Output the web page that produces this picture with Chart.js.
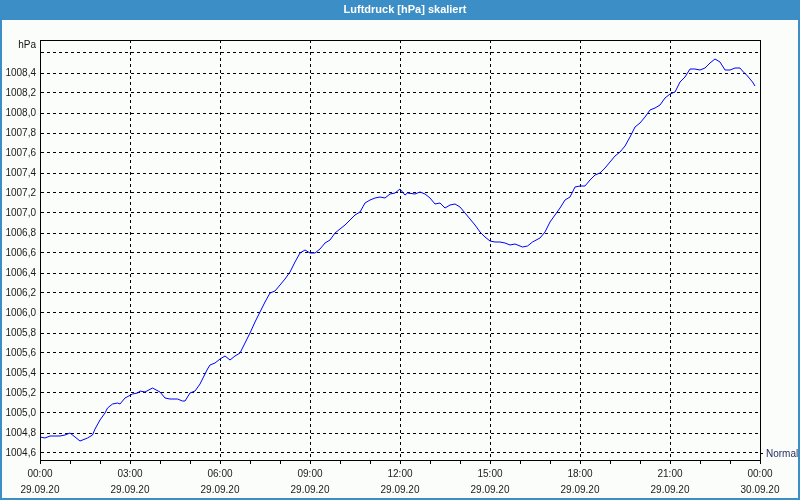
<!DOCTYPE html>
<html>
<head>
<meta charset="utf-8">
<script src="https://cdn.jsdelivr.net/npm/chart.js@4/dist/chart.umd.min.js"></script>
<style>
    body { margin: 0; background: #fbfdfb; }
    canvas { display: block; }
</style>
</head>
<body>
<canvas id="chart" width="800" height="500"></canvas>
<script>
const title = 'Luftdruck [hPa] skaliert'
const unit = 'hPa'
const normalLabel = 'Normal'

// minutes since 29.09.20 00:00
const minutes = [0, 10, 20, 30, 40, 50, 60, 70, 80, 95, 105, 110, 120, 130, 135, 145, 155, 160, 170, 185,
    195, 200, 210, 225, 240, 250, 260, 275, 285, 290, 300, 310, 320, 335, 340, 350, 360, 370, 380, 390,
    400, 410, 420, 430, 440, 450, 460, 470, 480, 490, 500, 510, 520, 530, 540, 550, 560, 570, 580, 590,
    600, 610, 620, 630, 640, 650, 660, 670, 680, 690, 700, 710, 720, 730, 735, 750, 760, 770, 780, 790,
    800, 810, 820, 830, 840, 850, 860, 870, 880, 890, 900, 910, 920, 930, 940, 950, 960, 965, 975, 985,
    1000, 1010, 1020, 1030, 1040, 1050, 1060, 1070, 1080, 1090, 1100, 1110, 1120, 1130, 1140, 1150, 1160, 1170, 1180, 1190,
    1200, 1210, 1220, 1230, 1240, 1250, 1260, 1270, 1280, 1290, 1300, 1310, 1320, 1330, 1340, 1350, 1360, 1370, 1380, 1390,
    1400, 1405, 1415, 1425, 1430]

const pressure = [1004.76, 1004.75, 1004.77, 1004.77, 1004.77, 1004.78, 1004.80, 1004.76, 1004.72, 1004.75, 1004.78, 1004.84, 1004.93, 1005.00, 1005.05, 1005.09, 1005.10, 1005.09, 1005.15, 1005.19,
    1005.20, 1005.22, 1005.21, 1005.25, 1005.21, 1005.15, 1005.14, 1005.14, 1005.12, 1005.12, 1005.20, 1005.22, 1005.29, 1005.44, 1005.48, 1005.50, 1005.54, 1005.57, 1005.53, 1005.57,
    1005.60, 1005.70, 1005.80, 1005.91, 1006.01, 1006.11, 1006.20, 1006.22, 1006.28, 1006.34, 1006.41, 1006.51, 1006.60, 1006.63, 1006.60, 1006.60, 1006.64, 1006.70, 1006.73, 1006.80,
    1006.84, 1006.88, 1006.93, 1006.98, 1007.01, 1007.10, 1007.13, 1007.15, 1007.16, 1007.15, 1007.19, 1007.20, 1007.24, 1007.18, 1007.20, 1007.19, 1007.21, 1007.19, 1007.15, 1007.09,
    1007.10, 1007.05, 1007.08, 1007.09, 1007.06, 1007.00, 1006.94, 1006.88, 1006.81, 1006.76, 1006.72, 1006.71, 1006.71, 1006.70, 1006.68, 1006.69, 1006.67, 1006.66, 1006.67, 1006.71,
    1006.75, 1006.81, 1006.91, 1006.98, 1007.05, 1007.13, 1007.16, 1007.26, 1007.27, 1007.27, 1007.33, 1007.38, 1007.40, 1007.45, 1007.51, 1007.57, 1007.61, 1007.67, 1007.76, 1007.86,
    1007.90, 1007.96, 1008.03, 1008.05, 1008.08, 1008.15, 1008.19, 1008.21, 1008.31, 1008.36, 1008.44, 1008.44, 1008.43, 1008.45, 1008.50, 1008.54, 1008.51, 1008.43, 1008.43, 1008.45,
    1008.45, 1008.42, 1008.37, 1008.31, 1008.27]

const xTickTimes = ['00:00', '03:00', '06:00', '09:00', '12:00', '15:00', '18:00', '21:00', '00:00']
const xTickDates = ['29.09.20', '29.09.20', '29.09.20', '29.09.20', '29.09.20', '29.09.20', '29.09.20', '29.09.20', '30.09.20']
const yTicks = [1004.6, 1004.8, 1005.0, 1005.2, 1005.4, 1005.6, 1005.8, 1006.0, 1006.2, 1006.4, 1006.6,
    1006.8, 1007.0, 1007.2, 1007.4, 1007.6, 1007.8, 1008.0, 1008.2, 1008.4, 1008.6]
const normalValue = 1004.6

const blue = '#3c8fc6'
const font = { family: '"Liberation Sans", sans-serif', size: 10, lineHeight: 1.6 }

const frame = {
    id: 'frame',
    beforeDraw(chart){
        const c = chart.ctx
        c.save()
        c.fillStyle = '#fbfdfb'
        c.fillRect(0, 0, 800, 500)
        c.fillStyle = blue
        c.fillRect(0, 0, 800, 20)
        c.strokeStyle = blue
        c.lineWidth = 2
        c.strokeRect(1, 1, 798, 498)
        c.fillStyle = '#ffffff'
        c.font = 'bold 11px "Liberation Sans", sans-serif'
        c.textAlign = 'center'
        c.textBaseline = 'middle'
        c.fillText(title, 405, 10)
        c.restore()
    },
    afterDraw(chart){
        const c = chart.ctx
        const a = chart.chartArea
        const y = Math.round(chart.scales.y.getPixelForValue(normalValue)) + 0.5
        c.save()
        c.strokeStyle = '#000'
        c.lineWidth = 1
        c.strokeRect(a.left + 0.5, a.top + 0.5, a.right - a.left, a.bottom - a.top)
        c.beginPath()
        c.moveTo(a.right, y)
        c.lineTo(a.right + 3, y)
        c.stroke()
        c.font = '10px "Liberation Sans", sans-serif'
        c.textBaseline = 'middle'
        c.fillStyle = '#1e2a5a'
        c.textAlign = 'left'
        c.fillText(normalLabel, a.right + 6, y + 1)
        c.fillStyle = '#111'
        c.textAlign = 'right'
        c.fillText(unit, a.left - 4, a.top + 5)
        c.restore()
    }
}

const points = minutes.map((m, i) => ({ x: m, y: pressure[i] }))

new Chart(document.getElementById('chart'), {
    type: 'line',
    data: {
        datasets: [{
            data: points,
            borderColor: '#0000ff',
            borderWidth: 1,
            pointRadius: 0,
            tension: 0,
            fill: false
        }]
    },
    plugins: [frame],
    options: {
        responsive: false,
        animation: false,
        layout: { padding: { top: 40, right: 40, left: 0, bottom: 0 } },
        plugins: {
            legend: { display: false },
            title: { display: false },
            tooltip: { enabled: false }
        },
        scales: {
            x: {
                type: 'linear',
                min: 0,
                max: 1440,
                afterBuildTicks: scale => {
                    const t = []
                    for(let m = 0; m <= 1440; m += 60) t.push({ value: m })
                    scale.ticks = t
                },
                afterFit: scale => { scale.height = 40 },
                ticks: {
                    autoSkip: false,
                    maxRotation: 0,
                    padding: 2,
                    color: '#1a1a1a',
                    font: font,
                    callback: v => v % 180 === 0 ? [xTickTimes[v / 180], xTickDates[v / 180]] : ''
                },
                grid: {
                    color: ctx => ctx.tick && ctx.tick.value % 180 === 0 ? '#000' : 'rgba(0,0,0,0)',
                    tickColor: '#000',
                    tickLength: 4
                },
                border: { color: '#000', width: 1, dash: [3, 3] }
            },
            y: {
                min: 1004.53,
                max: 1008.73,
                afterBuildTicks: scale => {
                    scale.ticks = yTicks.map(v => ({ value: v }))
                },
                afterFit: scale => { scale.width = 40 },
                ticks: {
                    padding: 4,
                    color: '#1a1a1a',
                    font: font,
                    callback: v => v > 1008.5 ? '' : v.toFixed(1).replace('.', ',')
                },
                grid: { color: '#000', drawTicks: false },
                border: { color: '#000', width: 1, dash: [3, 3] }
            }
        }
    }
})
</script>
</body>
</html>
